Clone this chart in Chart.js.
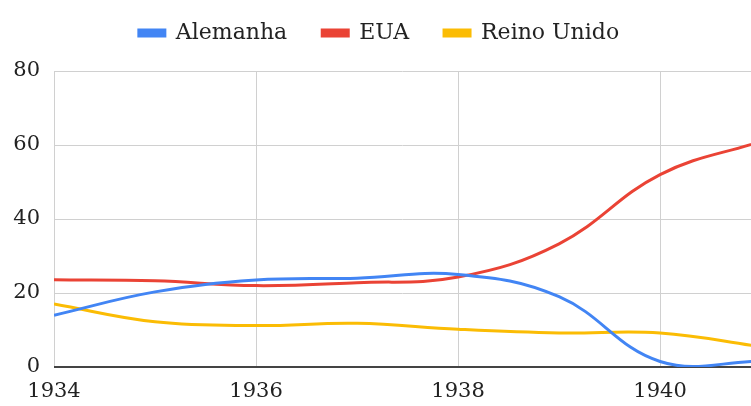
<!DOCTYPE html>
<html>
<head>
<meta charset="utf-8">
<script src="https://cdn.jsdelivr.net/npm/chart.js@4.4.1/dist/chart.umd.min.js"></script>
<style>
  html, body { margin: 0; padding: 0; background: #fff; overflow: hidden; }
  #wrap { width: 751px; height: 406px; }
</style>
</head>
<body>
<div id="wrap"><canvas id="myChart"></canvas></div>
<script>
// anos e valores
const years = [1934, 1935, 1936, 1937, 1938, 1939, 1940, 1941];
const alemanha = [14, 20.3, 23.5, 24, 25, 19, 1.5, 1.6];
const eua = [23.6, 23.3, 22, 22.8, 24.3, 33.3, 52, 61];
const reinoUnido = [17, 12.2, 11.2, 11.8, 10.2, 9.2, 9.2, 5.5];
const xTicks = [1934, 1936, 1938, 1940];
const yTicks = [0, 20, 40, 60, 80];

const tickFont = { family: 'DejaVu Serif', size: 21 };
const legendFont = { family: 'DejaVu Serif', size: 22 };

function toPoints(values) {
    return values.map((v, i) => ({ x: years[i], y: v }));
}

function makeSet(label, values, color) {
    return {
        label: label,
        data: toPoints(values),
        borderColor: color,
        backgroundColor: color,
        borderWidth: 3,
        pointRadius: 0,
        tension: 0.4
    };
}

// espaco extra entre legenda e area do grafico
const legendSpace = {
    id: 'legendSpace',
    afterInit(chart) {
        const fit = chart.legend.fit;
        chart.legend.fit = function() {
            fit.call(this);
            this.height += 17;
        };
    }
};

const ctx = document.getElementById('myChart');

new Chart(ctx, {
    type: 'line',
    data: {
        datasets: [
            makeSet('Alemanha', alemanha, '#4285F4'),
            makeSet('EUA', eua, '#EA4335'),
            makeSet('Reino Unido', reinoUnido, '#FBBC04')
        ]
    },
    options: {
        responsive: true,
        maintainAspectRatio: false,
        animation: false,
        layout: { padding: { left: 7, right: 0, top: -13, bottom: 0 } },
        plugins: {
            legend: {
                position: 'top',
                labels: {
                    font: legendFont,
                    color: '#222',
                    boxWidth: 26,
                    boxHeight: 6,
                    padding: 35
                }
            },
            tooltip: { enabled: false }
        },
        scales: {
            x: {
                type: 'linear',
                min: 1934,
                max: 1940.9,
                afterBuildTicks: (axis) => { axis.ticks = xTicks.map(v => ({ value: v })); },
                afterFit: (axis) => { axis.height = 39; },
                ticks: {
                    font: tickFont,
                    color: '#222',
                    padding: 12,
                    maxRotation: 0,
                    callback: (v) => String(v)
                },
                grid: { color: '#d0d0d0', lineWidth: 1, drawTicks: false },
                border: { display: false }
            },
            y: {
                min: 0,
                max: 80,
                afterBuildTicks: (axis) => { axis.ticks = yTicks.map(v => ({ value: v })); },
                afterFit: (axis) => { axis.width = 47; },
                ticks: {
                    font: tickFont,
                    color: '#222',
                    padding: 14
                },
                grid: {
                    drawTicks: false,
                    color: (c) => c.tick && c.tick.value === 0 ? '#444' : '#d0d0d0',
                    lineWidth: (c) => c.tick && c.tick.value === 0 ? 2 : 1
                },
                border: { display: false }
            }
        }
    },
    plugins: [legendSpace]
});
</script>
</body>
</html>
